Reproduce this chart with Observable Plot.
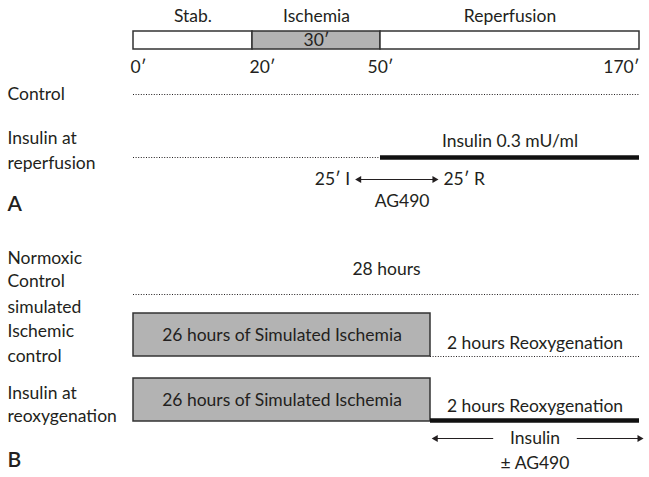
<!DOCTYPE html>
<html><head><meta charset="utf-8">
<script src="https://cdn.jsdelivr.net/npm/d3@7"></script>
<script src="https://cdn.jsdelivr.net/npm/@observablehq/plot@0.6"></script>
<style>
body{margin:0;background:#fff;}
#chart svg{display:block;}
</style></head><body><div id="chart"></div>
<script>
// ---------- DATA: panel A (minutes) ----------
const phaseNames = ["Stab.", "Ischemia", "Reperfusion"];
const phaseStart = [0, 20, 50];
const phaseEnd = [20, 50, 170];
const ischemiaDurationLabel = "30′";
const tickMinutes = [0, 20, 50, 170];
const tickLabels = ["0′", "20′", "50′", "170′"];
const insulinStartMin = 50;
const insulinEndMin = 170;
const insulinLabel = "Insulin 0.3 mU/ml";
const ag490Minutes = [45, 75];            // 25′ into ischemia → 25′ into reperfusion
const ag490EndLabels = ["25′ I", "25′ R"];
const ag490Label = "AG490";

// ---------- DATA: panel B (hours) ----------
const simIschemiaHours = 26;
const reoxHours = 2;
const totalHours = 28;
const simIschemiaLabel = "26 hours of Simulated Ischemia";
const reoxLabel = "2 hours Reoxygenation";
const totalLabel = "28 hours";
const insulinBArrowFrom = [26.6, 27.4];     // inner ends of the two arrows (hours)
const insulinBArrowTo = [26.05, 28];        // arrow tips (hours)
const insulinBLabels = ["Insulin", "± AG490"];

// ---------- LAYOUT (positions / styles) ----------
const W = 649;
const FONT = "Lato, 'Open Sans', sans-serif";
const FS = 17.5;
const INK = "#231f20";
const GRAY = "#b3b3b3";
const DOT = "1,1.6";
const LA = {h: 225, phaseLabel: 16, barTop: 31, barBottom: 49, tick: 67,
  control: 94, insulinLine: 157, insulinText: 141, arrow: 179, ag490: 201,
  labels: [["Control", 94], ["Insulin at", 138], ["reperfusion", 163]], panel: ["A", 204]};
const LB = {h: 252, totalText: 44, normoxic: 69, box1Top: 88, box1Bottom: 131, reox1: 118,
  box2Top: 153, box2Bottom: 196, reox2: 181, arrow: 213, insulin: 213, ag490: 238,
  labels: [["Normoxic", 33], ["Control", 56], ["simulated", 82], ["Ischemic", 106], ["control", 131],
           ["Insulin at", 168], ["reoxygenation", 191]], panel: ["B", 235]};

const common = {
  width: W, marginLeft: 133, marginRight: 10, marginTop: 0, marginBottom: 0,
  style: {fontFamily: FONT, fontSize: FS + "px", color: INK, background: "white", overflow: "visible"},
  color: {type: "identity"}
};
const labelMarks = (L) => [
  Plot.text(L.labels.map(([t, y]) => ({t, y})), {frameAnchor: "left", y: "y", text: "t", dx: -126, textAnchor: "start", fill: INK, fontSize: FS}),
  Plot.text([{t: L.panel[0], y: L.panel[1]}], {frameAnchor: "left", y: "y", text: "t", dx: -126, textAnchor: "start", fill: INK, fontSize: 21, fontWeight: 600})
];
const triangles = (pts, y) => Plot.dot(pts, {x: "x", y: () => y, symbol: "triangle", r: 2.6, fill: INK, stroke: "none", rotate: "rot"});

// ---------- PANEL A ----------
const phases = phaseNames.map((name, i) => ({name, start: phaseStart[i], end: phaseEnd[i], fill: i === 1 ? GRAY : "white"}));
const ticks = tickMinutes.map((t, i) => ({t, label: tickLabels[i], anchor: i <= 1 ? "start" : i === 2 ? "middle" : "end"}));

const plotA = Plot.plot({
  ...common, height: LA.h,
  x: {type: "linear", domain: tickMinutes, range: [133, 252, 380, 639], axis: null},
  y: {type: "identity", axis: null},
  marks: [
    Plot.rect(phases, {x1: "start", x2: "end", y1: () => LA.barTop, y2: () => LA.barBottom, fill: "fill", stroke: "#333", strokeWidth: 1.5}),
    Plot.text(phases, {x: d => (d.start + d.end) / 2, y: () => LA.phaseLabel, text: "name", fill: INK}),
    Plot.text([ischemiaDurationLabel], {x: () => (phaseStart[1] + phaseEnd[1]) / 2, y: () => (LA.barTop + LA.barBottom) / 2, text: d => d, fill: INK}),
    Plot.text(ticks.filter(d => d.anchor === "start"), {x: "t", y: () => LA.tick, text: "label", textAnchor: "start", dx: -3, fill: INK}),
    Plot.text(ticks.filter(d => d.anchor === "middle"), {x: "t", y: () => LA.tick, text: "label", textAnchor: "middle", fill: INK}),
    Plot.text(ticks.filter(d => d.anchor === "end"), {x: "t", y: () => LA.tick, text: "label", textAnchor: "end", fill: INK}),
    // Control: vehicle throughout
    Plot.ruleY([LA.control], {x1: () => tickMinutes[0], x2: () => tickMinutes[3], stroke: INK, strokeWidth: 1, strokeDasharray: DOT}),
    // Insulin at reperfusion
    Plot.ruleY([LA.insulinLine], {x1: () => tickMinutes[0], x2: () => insulinStartMin, stroke: INK, strokeWidth: 1, strokeDasharray: DOT}),
    Plot.ruleY([LA.insulinLine], {x1: () => insulinStartMin, x2: () => insulinEndMin, stroke: "#111", strokeWidth: 4.5}),
    Plot.text([insulinLabel], {x: () => (insulinStartMin + insulinEndMin) / 2, y: () => LA.insulinText, text: d => d, fill: INK}),
    // AG490 window
    Plot.ruleY([LA.arrow], {x1: () => ag490Minutes[0], x2: () => ag490Minutes[1], stroke: INK, strokeWidth: 1}),
    triangles([{x: ag490Minutes[0], rot: -90}, {x: ag490Minutes[1], rot: 90}], LA.arrow),
    Plot.text([ag490EndLabels[0]], {x: () => ag490Minutes[0], y: () => LA.arrow, text: d => d, textAnchor: "end", dx: -9, fill: INK}),
    Plot.text([ag490EndLabels[1]], {x: () => ag490Minutes[1], y: () => LA.arrow, text: d => d, textAnchor: "start", dx: 9, fill: INK}),
    Plot.text([ag490Label], {x: () => (ag490Minutes[0] + ag490Minutes[1]) / 2, y: () => LA.ag490, text: d => d, fill: INK}),
    ...labelMarks(LA)
  ]
});

// ---------- PANEL B ----------
const plotB = Plot.plot({
  ...common, height: LB.h,
  x: {type: "linear", domain: [0, simIschemiaHours, totalHours], range: [133, 430, 639], axis: null},
  y: {type: "identity", axis: null},
  marks: [
    // Normoxic control
    Plot.ruleY([LB.normoxic], {x1: () => 0, x2: () => totalHours, stroke: INK, strokeWidth: 1, strokeDasharray: DOT}),
    Plot.text([totalLabel], {frameAnchor: "middle", y: () => LB.totalText, text: d => d, fill: INK}),
    // Simulated ischemic control
    Plot.rect([{s: 0, e: simIschemiaHours}], {x1: "s", x2: "e", y1: () => LB.box1Top, y2: () => LB.box1Bottom, fill: GRAY, stroke: "#333", strokeWidth: 1.5}),
    Plot.text([simIschemiaLabel], {x: () => simIschemiaHours / 2, y: () => (LB.box1Top + LB.box1Bottom) / 2, text: d => d, fill: INK}),
    Plot.ruleY([LB.box1Bottom], {x1: () => simIschemiaHours, x2: () => simIschemiaHours + reoxHours, stroke: INK, strokeWidth: 1, strokeDasharray: DOT}),
    Plot.text([reoxLabel], {x: () => simIschemiaHours + reoxHours / 2, y: () => LB.reox1, text: d => d, fill: INK}),
    // Insulin at reoxygenation
    Plot.rect([{s: 0, e: simIschemiaHours}], {x1: "s", x2: "e", y1: () => LB.box2Top, y2: () => LB.box2Bottom, fill: GRAY, stroke: "#333", strokeWidth: 1.5}),
    Plot.text([simIschemiaLabel], {x: () => simIschemiaHours / 2, y: () => (LB.box2Top + LB.box2Bottom) / 2, text: d => d, fill: INK}),
    Plot.ruleY([LB.box2Bottom - 1], {x1: () => simIschemiaHours, x2: () => simIschemiaHours + reoxHours, stroke: "#111", strokeWidth: 4.5}),
    Plot.text([reoxLabel], {x: () => simIschemiaHours + reoxHours / 2, y: () => LB.reox2, text: d => d, fill: INK}),
    // Insulin ± AG490 arrows
    Plot.link([0, 1], {x1: i => insulinBArrowFrom[i], x2: i => insulinBArrowTo[i], y1: () => LB.arrow, y2: () => LB.arrow, stroke: INK, strokeWidth: 1}),
    triangles([{x: insulinBArrowTo[0], rot: -90}, {x: insulinBArrowTo[1], rot: 90}], LB.arrow),
    Plot.text([insulinBLabels[0]], {x: () => simIschemiaHours + reoxHours / 2, y: () => LB.insulin, text: d => d, fill: INK}),
    Plot.text([insulinBLabels[1]], {x: () => simIschemiaHours + reoxHours / 2, y: () => LB.ag490, text: d => d, fill: INK}),
    ...labelMarks(LB)
  ]
});

const root = document.getElementById("chart");
root.appendChild(plotA);
root.appendChild(plotB);
</script>
</body></html>
